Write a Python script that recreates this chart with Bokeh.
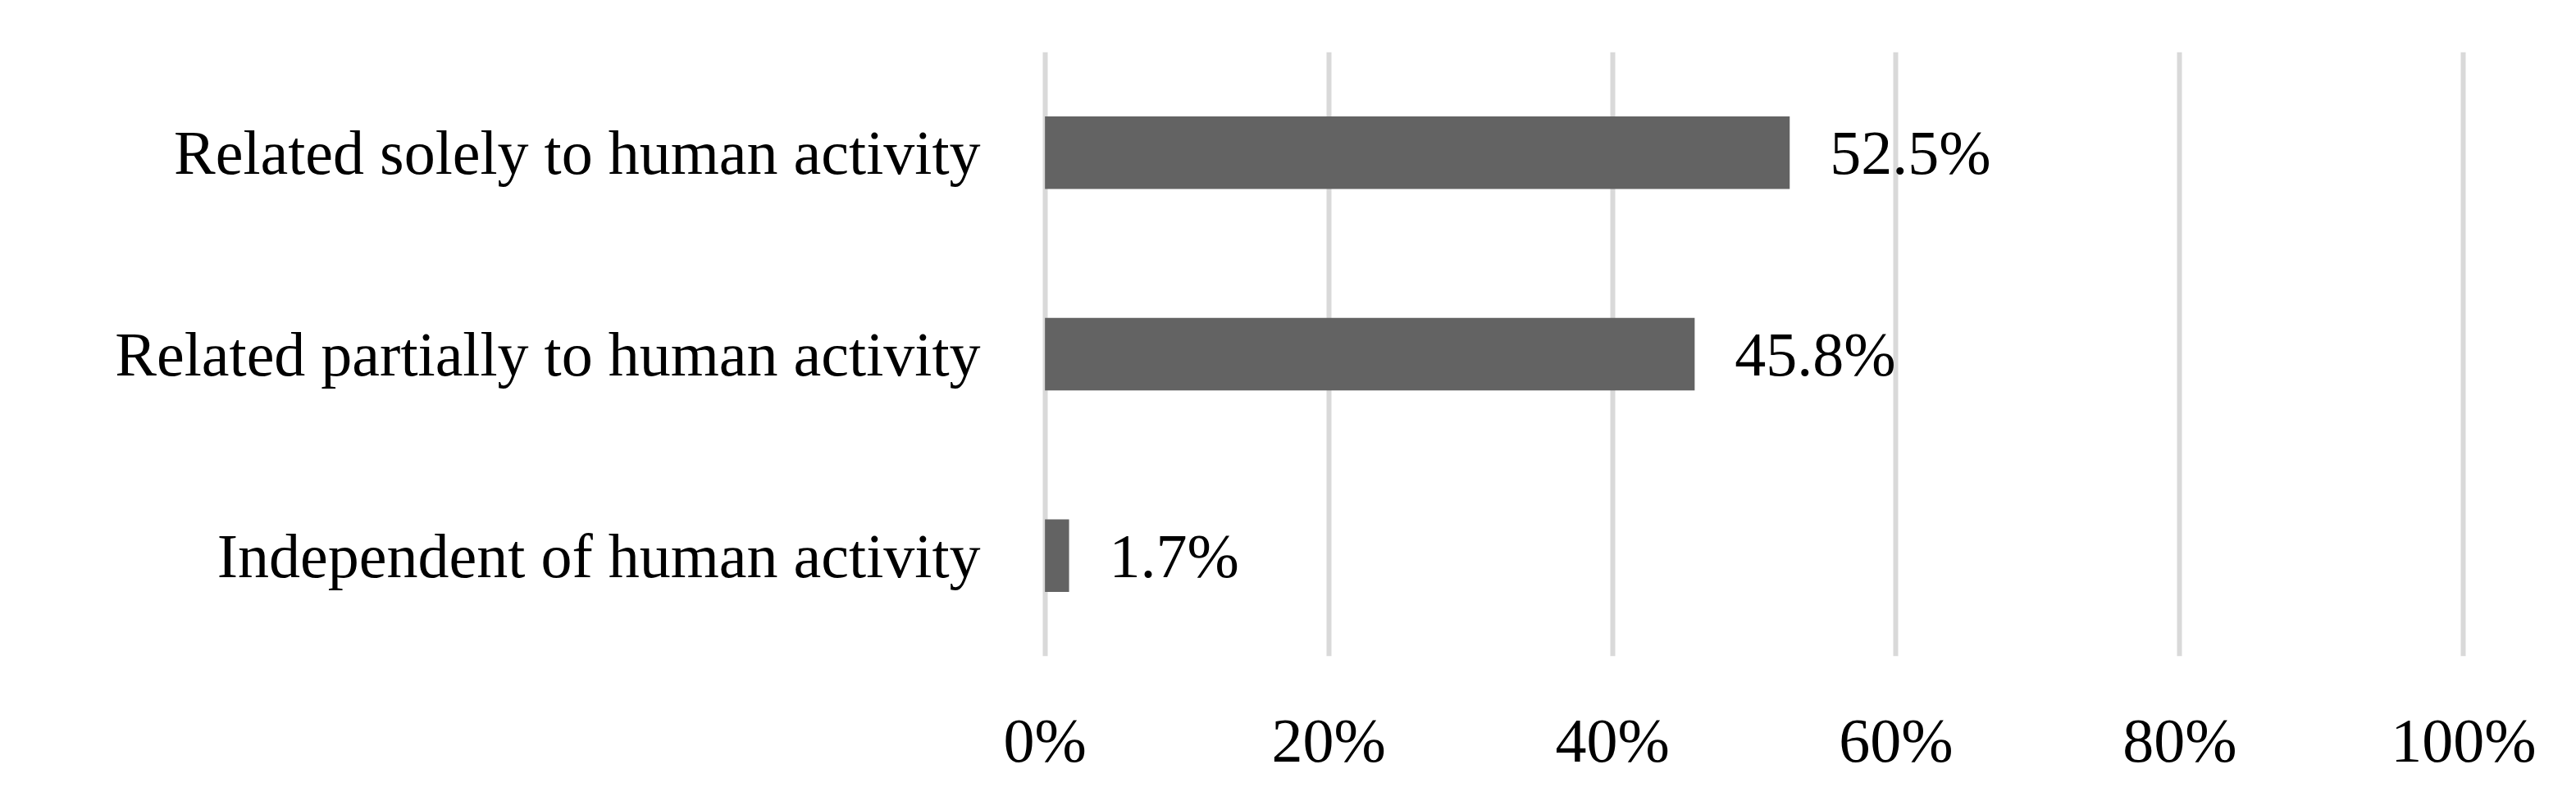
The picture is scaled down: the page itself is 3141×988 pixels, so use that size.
from bokeh.plotting import figure
from bokeh.models import ColumnDataSource, FactorRange, Range1d, FixedTicker
from bokeh.core.properties import value
from bokeh.embed import file_html
from bokeh.resources import INLINE

categories = ["Independent of human activity",
              "Related partially to human activity",
              "Related solely to human activity"]
values = [1.7, 45.8, 52.5]
labels = ["1.7%", "45.8%", "52.5%"]
ticks = [0, 20, 40, 60, 80, 100]
tick_labels = {0: "0%", 20: "20%", 40: "40%", 60: "60%", 80: "80%", 100: "100%"}

FONT = "Liberation Serif"
FS = "76px"

src = ColumnDataSource(dict(cat=categories, val=values, lab=labels))

p = figure(width=3125, height=972, output_backend="svg", toolbar_location=None,
           y_range=FactorRange(*categories, range_padding=0),
           x_range=Range1d(-0.5, 100.5),
           min_border_left=1265, min_border_right=113,
           min_border_top=63, min_border_bottom=172)

p.hbar(y="cat", right="val", left=0, height=0.36, source=src,
       fill_color="#636363", line_color=None)
p.text(x="val", y="cat", text="lab", source=src, x_offset=49,
       text_baseline="middle", text_align="left",
       text_font=value(FONT), text_font_size=FS, text_color="#000000")

p.outline_line_color = None
p.ygrid.grid_line_color = None
p.xgrid.grid_line_color = "#d9d9d9"
p.xgrid.grid_line_width = 6
p.xgrid.level = "underlay"
p.xaxis.ticker = FixedTicker(ticks=ticks)
p.xaxis.major_label_overrides = tick_labels
for ax in (p.xaxis, p.yaxis):
    ax.axis_line_color = None
    ax.major_tick_line_color = None
    ax.minor_tick_line_color = None
    ax.major_label_text_font = FONT
    ax.major_label_text_font_size = FS
    ax.major_label_text_color = "#000000"
p.xaxis.major_label_standoff = 54
p.yaxis.major_label_standoff = 64

open("out.html", "w").write(file_html(p, INLINE))
